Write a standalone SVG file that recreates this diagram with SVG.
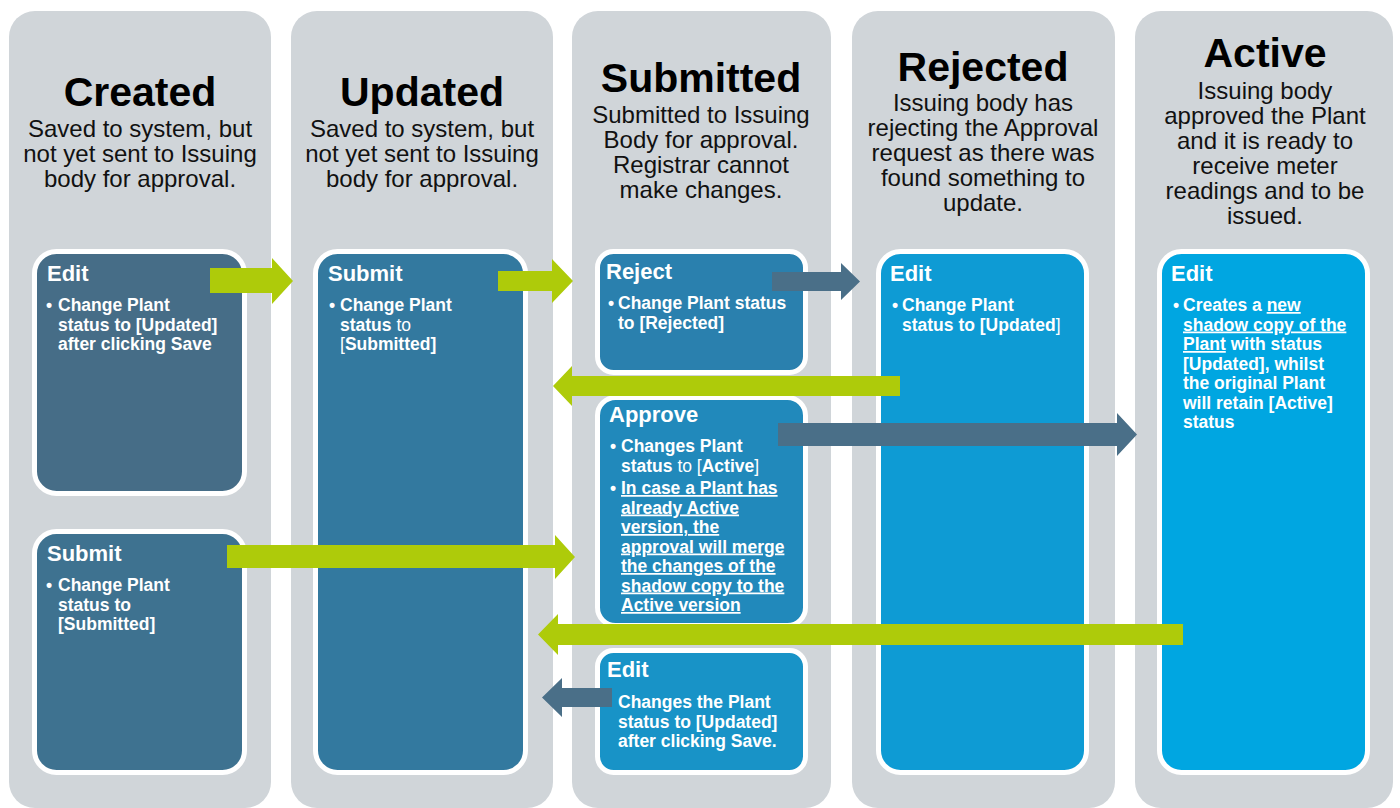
<svg xmlns="http://www.w3.org/2000/svg" width="1400" height="808" viewBox="0 0 1400 808">
<style>
.lane{fill:#D0D5D9}
.box{stroke:#FFFFFF;stroke-width:5}
.title{font-family:"Liberation Sans",Arial,sans-serif;font-weight:bold;font-size:41px;fill:#000;text-anchor:middle}
.sub{font-family:"Liberation Sans",Arial,sans-serif;font-size:24px;fill:#111;text-anchor:middle}
.hd{font-family:"Liberation Sans",Arial,sans-serif;font-weight:bold;font-size:22px;fill:#FFF}
.bd{font-family:"Liberation Sans",Arial,sans-serif;font-weight:bold;font-size:17.5px;fill:#FFF}
.n{font-weight:normal}
.u{text-decoration:underline}
.g{fill:#AECB0A}
.d{fill:#4A6F88}
</style>
<rect width="1400" height="808" fill="#FFFFFF"/>
<g id="lane-created">
<rect class="lane" x="9" y="11" width="262" height="797" rx="26"/>
<text class="title" x="140" y="106">Created</text>
<text class="sub"><tspan x="140" y="137">Saved to system, but</tspan><tspan x="140" y="162">not yet sent to Issuing</tspan><tspan x="140" y="187">body for approval.</tspan></text>
</g>
<g id="lane-updated">
<rect class="lane" x="291" y="11" width="262" height="797" rx="26"/>
<text class="title" x="422" y="106">Updated</text>
<text class="sub"><tspan x="422" y="137">Saved to system, but</tspan><tspan x="422" y="162">not yet sent to Issuing</tspan><tspan x="422" y="187">body for approval.</tspan></text>
</g>
<g id="lane-submitted">
<rect class="lane" x="572" y="11" width="259" height="797" rx="26"/>
<text class="title" x="701" y="92">Submitted</text>
<text class="sub"><tspan x="701" y="123">Submitted to Issuing</tspan><tspan x="701" y="148">Body for approval.</tspan><tspan x="701" y="173">Registrar cannot</tspan><tspan x="701" y="198">make changes.</tspan></text>
</g>
<g id="lane-rejected">
<rect class="lane" x="852" y="11" width="263" height="797" rx="26"/>
<text class="title" x="983" y="81">Rejected</text>
<text class="sub"><tspan x="983" y="111">Issuing body has</tspan><tspan x="983" y="136">rejecting the Approval</tspan><tspan x="983" y="161">request as there was</tspan><tspan x="983" y="186">found something to</tspan><tspan x="983" y="211">update.</tspan></text>
</g>
<g id="lane-active">
<rect class="lane" x="1135" y="11" width="258" height="797" rx="26"/>
<text class="title" x="1265" y="67">Active</text>
<text class="sub"><tspan x="1265" y="99">Issuing body</tspan><tspan x="1265" y="124">approved the Plant</tspan><tspan x="1265" y="149">and it is ready to</tspan><tspan x="1265" y="174">receive meter</tspan><tspan x="1265" y="199">readings and to be</tspan><tspan x="1265" y="224">issued.</tspan></text>
</g>

<g id="created-edit">
<rect class="box" x="34.5" y="251.5" width="210" height="242" rx="22" fill="#466D87"/>
<text class="hd" x="47" y="281">Edit</text>
<text class="bd"><tspan x="46" y="311">•</tspan><tspan x="58" y="311">Change Plant</tspan><tspan x="58" y="330.5">status to [Updated]</tspan><tspan x="58" y="350">after clicking Save</tspan></text>
</g>
<g id="created-submit">
<rect class="box" x="34.5" y="531.5" width="210" height="241" rx="22" fill="#3E7290"/>
<text class="hd" x="47" y="561">Submit</text>
<text class="bd"><tspan x="46" y="591">•</tspan><tspan x="58" y="591">Change Plant</tspan><tspan x="58" y="610.5">status to</tspan><tspan x="58" y="630">[Submitted]</tspan></text>
</g>
<g id="updated-submit">
<rect class="box" x="315.5" y="251.5" width="210" height="521" rx="22" fill="#33799F"/>
<text class="hd" x="328" y="281">Submit</text>
<text class="bd"><tspan x="329" y="311">•</tspan><tspan x="340" y="311">Change Plant</tspan><tspan x="340" y="330.5">status<tspan class="n"> to</tspan></tspan><tspan x="340" y="350"><tspan class="n">[</tspan>Submitted]</tspan></text>
</g>
<g id="submitted-reject">
<rect class="box" x="597.5" y="251.5" width="208" height="121" rx="16" fill="#2A80AE"/>
<text class="hd" x="606" y="279">Reject</text>
<text class="bd"><tspan x="608" y="309">•</tspan><tspan x="618" y="309">Change Plant status</tspan><tspan x="618" y="328.5">to [Rejected]</tspan></text>
</g>
<g id="submitted-approve">
<rect class="box" x="597.5" y="397.5" width="208" height="228" rx="18" fill="#2189BB"/>
<text class="hd" x="609" y="422">Approve</text>
<text class="bd"><tspan x="610" y="452">•</tspan><tspan x="621" y="452">Changes Plant</tspan><tspan x="621" y="471.5">status<tspan class="n"> to [</tspan>Active<tspan class="n">]</tspan></tspan><tspan x="610" y="494">•</tspan><tspan class="u" x="621" y="494">In case a Plant has</tspan><tspan class="u" x="621" y="513.5">already Active</tspan><tspan class="u" x="621" y="533">version, the</tspan><tspan class="u" x="621" y="552.5">approval will merge</tspan><tspan class="u" x="621" y="572">the changes of the</tspan><tspan class="u" x="621" y="591.5">shadow copy to the</tspan><tspan class="u" x="621" y="611">Active version</tspan></text>
</g>
<g id="submitted-edit">
<rect class="box" x="597.5" y="650.5" width="208" height="122" rx="16" fill="#1893C7"/>
<text class="hd" x="607" y="677">Edit</text>
<text class="bd"><tspan x="618" y="708">Changes the Plant</tspan><tspan x="618" y="727.5">status to [Updated]</tspan><tspan x="618" y="747">after clicking Save.</tspan></text>
</g>
<g id="rejected-edit">
<rect class="box" x="878.5" y="251.5" width="208" height="521" rx="22" fill="#0E9BD4"/>
<text class="hd" x="890" y="281">Edit</text>
<text class="bd"><tspan x="892" y="311">•</tspan><tspan x="902" y="311">Change Plant</tspan><tspan x="902" y="330.5">status to [Updated<tspan class="n">]</tspan></tspan></text>
</g>
<g id="active-edit">
<rect class="box" x="1159.5" y="251.5" width="208" height="521" rx="22" fill="#00A6E1"/>
<text class="hd" x="1171" y="281">Edit</text>
<text class="bd"><tspan x="1173" y="311">•</tspan><tspan x="1183" y="311">Creates a <tspan class="u">new</tspan></tspan><tspan class="u" x="1183" y="330.5">shadow copy of the</tspan><tspan x="1183" y="350"><tspan class="u">Plant</tspan> with status</tspan><tspan x="1183" y="369.5">[Updated], whilst</tspan><tspan x="1183" y="389">the original Plant</tspan><tspan x="1183" y="408.5">will retain [Active]</tspan><tspan x="1183" y="428">status</tspan></text>
</g>

<g id="connectors">
<polygon class="g" points="210,268 272,268 272,258 293,281 272,304 272,293 210,293"/>
<polygon class="g" points="498,271 552,271 552,259 573,281 552,303 552,291 498,291"/>
<polygon class="d" points="772,272 841,272 841,263 860,281.5 841,300 841,291 772,291"/>
<polygon class="g" points="900,376 572,376 572,366 553,386 572,406 572,396 900,396"/>
<polygon class="d" points="778,423 1117,423 1117,413 1137,434.5 1117,456 1117,446 778,446"/>
<polygon class="g" points="227,545 555,545 555,535 575,557 555,579 555,568 227,568"/>
<polygon class="g" points="1183,624 558,624 558,614 538,634.5 558,655 558,645 1183,645"/>
<polygon class="d" points="612,688 562,688 562,678 542,697.5 562,717 562,707 612,707"/>
</g>
</svg>
